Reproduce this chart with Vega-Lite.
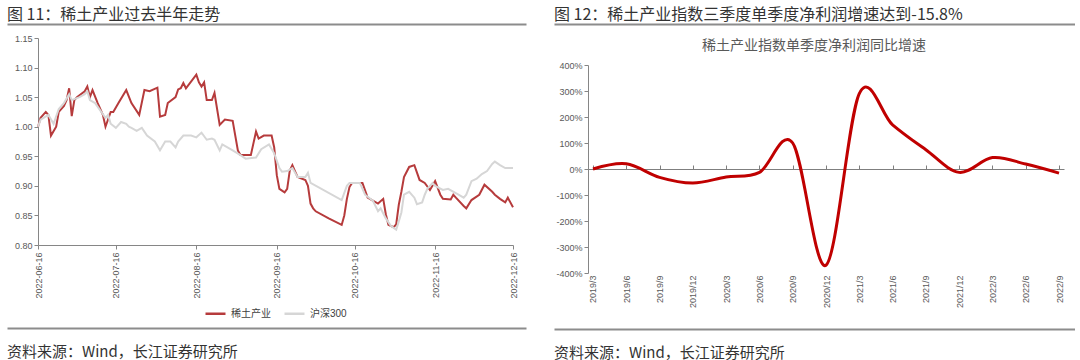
{
  "$schema": "https://vega.github.io/schema/vega-lite/v6.json",
  "padding": {"left": 7, "top": 7, "right": 0, "bottom": 0},
  "background": "white",
  "config": {
    "view": {"stroke": null},
    "font": "Liberation Sans, Noto Sans CJK SC",
    "axis": {"labelFontSize": 9, "labelColor": "#595959", "domainColor": "#868686", "tickColor": "#868686", "tickSize": 4, "grid": false, "labelOverlap": false, "labelFont": "Liberation Sans, Noto Sans CJK SC"},
    "legend": {"layout": {"bottom": {"anchor": "middle"}}}
  },
  "resolve": {"scale": {"color": "independent"}, "legend": {"color": "independent"}},
  "hconcat": [
    {
      "spacing": 9,
      "resolve": {"scale": {"color": "independent"}, "legend": {"color": "independent"}},
      "vconcat": [
        {
          "width": 519, "height": 1,
          "title": {"text": "图 11：稀土产业过去半年走势", "anchor": "start", "fontSize": 16, "font": "Noto Sans CJK SC", "fontWeight": "normal", "color": "#333333", "offset": 1},
          "data": {"values": [{}]},
          "mark": {"type": "point", "size": 0, "opacity": 0},
          "encoding": {"x": {"datum": 0, "type": "quantitative", "scale": {"domain": [0, 1]}, "axis": {"orient": "top", "domain": true, "domainColor": "#8c8c8c", "domainWidth": 2, "ticks": false, "labels": false, "title": null}}}
        },
        {
          "spacing": 0,
          "resolve": {"scale": {"color": "independent"}, "legend": {"color": "independent"}},
          "hconcat": [
            {"width": 1, "height": 1, "data": {"values": [{}]}, "mark": {"type": "point", "size": 0, "opacity": 0}},
            {
              "width": 475, "height": 207,
              "data": {"values": [
                {"date": "2022-06-16", "s": "稀土产业", "v": 1.000},
                {"date": "2022-06-17", "s": "稀土产业", "v": 1.015},
                {"date": "2022-06-19", "s": "稀土产业", "v": 1.025},
                {"date": "2022-06-20", "s": "稀土产业", "v": 1.020},
                {"date": "2022-06-21", "s": "稀土产业", "v": 0.985},
                {"date": "2022-06-23", "s": "稀土产业", "v": 1.000},
                {"date": "2022-06-24", "s": "稀土产业", "v": 1.025},
                {"date": "2022-06-26", "s": "稀土产业", "v": 1.035},
                {"date": "2022-06-27", "s": "稀土产业", "v": 1.045},
                {"date": "2022-06-28", "s": "稀土产业", "v": 1.065},
                {"date": "2022-06-29", "s": "稀土产业", "v": 1.018},
                {"date": "2022-06-30", "s": "稀土产业", "v": 1.045},
                {"date": "2022-07-01", "s": "稀土产业", "v": 1.050},
                {"date": "2022-07-04", "s": "稀土产业", "v": 1.060},
                {"date": "2022-07-05", "s": "稀土产业", "v": 1.068},
                {"date": "2022-07-06", "s": "稀土产业", "v": 1.050},
                {"date": "2022-07-07", "s": "稀土产业", "v": 1.062},
                {"date": "2022-07-09", "s": "稀土产业", "v": 1.040},
                {"date": "2022-07-11", "s": "稀土产业", "v": 1.020},
                {"date": "2022-07-12", "s": "稀土产业", "v": 1.000},
                {"date": "2022-07-14", "s": "稀土产业", "v": 1.025},
                {"date": "2022-07-15", "s": "稀土产业", "v": 1.025},
                {"date": "2022-07-17", "s": "稀土产业", "v": 1.040},
                {"date": "2022-07-20", "s": "稀土产业", "v": 1.062},
                {"date": "2022-07-22", "s": "稀土产业", "v": 1.040},
                {"date": "2022-07-25", "s": "稀土产业", "v": 1.020},
                {"date": "2022-07-27", "s": "稀土产业", "v": 1.062},
                {"date": "2022-07-29", "s": "稀土产业", "v": 1.060},
                {"date": "2022-08-01", "s": "稀土产业", "v": 1.066},
                {"date": "2022-08-02", "s": "稀土产业", "v": 1.017},
                {"date": "2022-08-04", "s": "稀土产业", "v": 1.020},
                {"date": "2022-08-05", "s": "稀土产业", "v": 1.040},
                {"date": "2022-08-08", "s": "稀土产业", "v": 1.050},
                {"date": "2022-08-09", "s": "稀土产业", "v": 1.063},
                {"date": "2022-08-10", "s": "稀土产业", "v": 1.065},
                {"date": "2022-08-11", "s": "稀土产业", "v": 1.074},
                {"date": "2022-08-12", "s": "稀土产业", "v": 1.065},
                {"date": "2022-08-16", "s": "稀土产业", "v": 1.088},
                {"date": "2022-08-17", "s": "稀土产业", "v": 1.075},
                {"date": "2022-08-18", "s": "稀土产业", "v": 1.068},
                {"date": "2022-08-19", "s": "稀土产业", "v": 1.075},
                {"date": "2022-08-20", "s": "稀土产业", "v": 1.045},
                {"date": "2022-08-22", "s": "稀土产业", "v": 1.045},
                {"date": "2022-08-23", "s": "稀土产业", "v": 1.057},
                {"date": "2022-08-25", "s": "稀土产业", "v": 1.003},
                {"date": "2022-08-27", "s": "稀土产业", "v": 1.012},
                {"date": "2022-08-30", "s": "稀土产业", "v": 1.010},
                {"date": "2022-09-01", "s": "稀土产业", "v": 0.960},
                {"date": "2022-09-02", "s": "稀土产业", "v": 0.952},
                {"date": "2022-09-06", "s": "稀土产业", "v": 0.952},
                {"date": "2022-09-08", "s": "稀土产业", "v": 0.992},
                {"date": "2022-09-09", "s": "稀土产业", "v": 0.980},
                {"date": "2022-09-11", "s": "稀土产业", "v": 0.985},
                {"date": "2022-09-14", "s": "稀土产业", "v": 0.985},
                {"date": "2022-09-15", "s": "稀土产业", "v": 0.965},
                {"date": "2022-09-16", "s": "稀土产业", "v": 0.918},
                {"date": "2022-09-17", "s": "稀土产业", "v": 0.895},
                {"date": "2022-09-19", "s": "稀土产业", "v": 0.889},
                {"date": "2022-09-20", "s": "稀土产业", "v": 0.895},
                {"date": "2022-09-21", "s": "稀土产业", "v": 0.926},
                {"date": "2022-09-22", "s": "稀土产业", "v": 0.935},
                {"date": "2022-09-23", "s": "稀土产业", "v": 0.925},
                {"date": "2022-09-24", "s": "稀土产业", "v": 0.915},
                {"date": "2022-09-27", "s": "稀土产业", "v": 0.910},
                {"date": "2022-09-28", "s": "稀土产业", "v": 0.900},
                {"date": "2022-09-29", "s": "稀土产业", "v": 0.870},
                {"date": "2022-09-30", "s": "稀土产业", "v": 0.862},
                {"date": "2022-10-01", "s": "稀土产业", "v": 0.857},
                {"date": "2022-10-06", "s": "稀土产业", "v": 0.845},
                {"date": "2022-10-11", "s": "稀土产业", "v": 0.834},
                {"date": "2022-10-12", "s": "稀土产业", "v": 0.850},
                {"date": "2022-10-13", "s": "稀土产业", "v": 0.878},
                {"date": "2022-10-14", "s": "稀土产业", "v": 0.898},
                {"date": "2022-10-15", "s": "稀土产业", "v": 0.905},
                {"date": "2022-10-19", "s": "稀土产业", "v": 0.905},
                {"date": "2022-10-21", "s": "稀土产业", "v": 0.880},
                {"date": "2022-10-23", "s": "稀土产业", "v": 0.875},
                {"date": "2022-10-25", "s": "稀土产业", "v": 0.870},
                {"date": "2022-10-27", "s": "稀土产业", "v": 0.878},
                {"date": "2022-10-28", "s": "稀土产业", "v": 0.852},
                {"date": "2022-10-29", "s": "稀土产业", "v": 0.834},
                {"date": "2022-10-31", "s": "稀土产业", "v": 0.830},
                {"date": "2022-11-01", "s": "稀土产业", "v": 0.835},
                {"date": "2022-11-02", "s": "稀土产业", "v": 0.868},
                {"date": "2022-11-03", "s": "稀土产业", "v": 0.890},
                {"date": "2022-11-04", "s": "稀土产业", "v": 0.915},
                {"date": "2022-11-06", "s": "稀土产业", "v": 0.932},
                {"date": "2022-11-08", "s": "稀土产业", "v": 0.935},
                {"date": "2022-11-10", "s": "稀土产业", "v": 0.910},
                {"date": "2022-11-12", "s": "稀土产业", "v": 0.905},
                {"date": "2022-11-14", "s": "稀土产业", "v": 0.893},
                {"date": "2022-11-16", "s": "稀土产业", "v": 0.908},
                {"date": "2022-11-18", "s": "稀土产业", "v": 0.885},
                {"date": "2022-11-19", "s": "稀土产业", "v": 0.878},
                {"date": "2022-11-22", "s": "稀土产业", "v": 0.877},
                {"date": "2022-11-23", "s": "稀土产业", "v": 0.885},
                {"date": "2022-11-24", "s": "稀土产业", "v": 0.880},
                {"date": "2022-11-27", "s": "稀土产业", "v": 0.866},
                {"date": "2022-11-28", "s": "稀土产业", "v": 0.862},
                {"date": "2022-11-30", "s": "稀土产业", "v": 0.876},
                {"date": "2022-12-03", "s": "稀土产业", "v": 0.885},
                {"date": "2022-12-05", "s": "稀土产业", "v": 0.902},
                {"date": "2022-12-08", "s": "稀土产业", "v": 0.890},
                {"date": "2022-12-09", "s": "稀土产业", "v": 0.885},
                {"date": "2022-12-11", "s": "稀土产业", "v": 0.878},
                {"date": "2022-12-13", "s": "稀土产业", "v": 0.872},
                {"date": "2022-12-14", "s": "稀土产业", "v": 0.880},
                {"date": "2022-12-16", "s": "稀土产业", "v": 0.864},
                {"date": "2022-06-16", "s": "沪深300", "v": 1.000},
                {"date": "2022-06-17", "s": "沪深300", "v": 1.012},
                {"date": "2022-06-20", "s": "沪深300", "v": 1.020},
                {"date": "2022-06-22", "s": "沪深300", "v": 1.005},
                {"date": "2022-06-24", "s": "沪深300", "v": 1.030},
                {"date": "2022-06-26", "s": "沪深300", "v": 1.040},
                {"date": "2022-06-28", "s": "沪深300", "v": 1.055},
                {"date": "2022-06-29", "s": "沪深300", "v": 1.045},
                {"date": "2022-07-02", "s": "沪深300", "v": 1.050},
                {"date": "2022-07-04", "s": "沪深300", "v": 1.055},
                {"date": "2022-07-05", "s": "沪深300", "v": 1.060},
                {"date": "2022-07-06", "s": "沪深300", "v": 1.045},
                {"date": "2022-07-08", "s": "沪深300", "v": 1.040},
                {"date": "2022-07-12", "s": "沪深300", "v": 1.015},
                {"date": "2022-07-13", "s": "沪深300", "v": 1.020},
                {"date": "2022-07-14", "s": "沪深300", "v": 1.005},
                {"date": "2022-07-16", "s": "沪深300", "v": 0.998},
                {"date": "2022-07-18", "s": "沪深300", "v": 1.008},
                {"date": "2022-07-20", "s": "沪深300", "v": 1.005},
                {"date": "2022-07-21", "s": "沪深300", "v": 1.000},
                {"date": "2022-07-22", "s": "沪深300", "v": 0.998},
                {"date": "2022-07-24", "s": "沪深300", "v": 0.993},
                {"date": "2022-07-26", "s": "沪深300", "v": 0.998},
                {"date": "2022-07-28", "s": "沪深300", "v": 0.985},
                {"date": "2022-07-31", "s": "沪深300", "v": 0.975},
                {"date": "2022-08-02", "s": "沪深300", "v": 0.960},
                {"date": "2022-08-04", "s": "沪深300", "v": 0.975},
                {"date": "2022-08-06", "s": "沪深300", "v": 0.975},
                {"date": "2022-08-08", "s": "沪深300", "v": 0.965},
                {"date": "2022-08-09", "s": "沪深300", "v": 0.975},
                {"date": "2022-08-11", "s": "沪深300", "v": 0.985},
                {"date": "2022-08-14", "s": "沪深300", "v": 0.985},
                {"date": "2022-08-16", "s": "沪深300", "v": 0.982},
                {"date": "2022-08-18", "s": "沪深300", "v": 0.990},
                {"date": "2022-08-20", "s": "沪深300", "v": 0.978},
                {"date": "2022-08-22", "s": "沪深300", "v": 0.980},
                {"date": "2022-08-23", "s": "沪深300", "v": 0.978},
                {"date": "2022-08-25", "s": "沪深300", "v": 0.960},
                {"date": "2022-08-26", "s": "沪深300", "v": 0.970},
                {"date": "2022-08-30", "s": "沪深300", "v": 0.960},
                {"date": "2022-09-02", "s": "沪深300", "v": 0.952},
                {"date": "2022-09-04", "s": "沪深300", "v": 0.946},
                {"date": "2022-09-08", "s": "沪深300", "v": 0.948},
                {"date": "2022-09-10", "s": "沪深300", "v": 0.962},
                {"date": "2022-09-13", "s": "沪深300", "v": 0.970},
                {"date": "2022-09-15", "s": "沪深300", "v": 0.955},
                {"date": "2022-09-17", "s": "沪深300", "v": 0.930},
                {"date": "2022-09-18", "s": "沪深300", "v": 0.924},
                {"date": "2022-09-20", "s": "沪深300", "v": 0.925},
                {"date": "2022-09-22", "s": "沪深300", "v": 0.930},
                {"date": "2022-09-24", "s": "沪深300", "v": 0.915},
                {"date": "2022-09-27", "s": "沪深300", "v": 0.915},
                {"date": "2022-09-28", "s": "沪深300", "v": 0.922},
                {"date": "2022-09-29", "s": "沪深300", "v": 0.905},
                {"date": "2022-10-11", "s": "沪深300", "v": 0.876},
                {"date": "2022-10-13", "s": "沪深300", "v": 0.900},
                {"date": "2022-10-14", "s": "沪深300", "v": 0.905},
                {"date": "2022-10-18", "s": "沪深300", "v": 0.905},
                {"date": "2022-10-20", "s": "沪深300", "v": 0.885},
                {"date": "2022-10-23", "s": "沪深300", "v": 0.875},
                {"date": "2022-10-25", "s": "沪深300", "v": 0.857},
                {"date": "2022-10-26", "s": "沪深300", "v": 0.862},
                {"date": "2022-10-28", "s": "沪深300", "v": 0.845},
                {"date": "2022-10-30", "s": "沪深300", "v": 0.832},
                {"date": "2022-11-01", "s": "沪深300", "v": 0.826},
                {"date": "2022-11-02", "s": "沪深300", "v": 0.840},
                {"date": "2022-11-03", "s": "沪深300", "v": 0.855},
                {"date": "2022-11-04", "s": "沪深300", "v": 0.885},
                {"date": "2022-11-06", "s": "沪深300", "v": 0.890},
                {"date": "2022-11-08", "s": "沪深300", "v": 0.880},
                {"date": "2022-11-09", "s": "沪深300", "v": 0.869},
                {"date": "2022-11-11", "s": "沪深300", "v": 0.872},
                {"date": "2022-11-12", "s": "沪深300", "v": 0.885},
                {"date": "2022-11-13", "s": "沪深300", "v": 0.895},
                {"date": "2022-11-15", "s": "沪深300", "v": 0.905},
                {"date": "2022-11-16", "s": "沪深300", "v": 0.900},
                {"date": "2022-11-19", "s": "沪深300", "v": 0.893},
                {"date": "2022-11-21", "s": "沪深300", "v": 0.895},
                {"date": "2022-11-25", "s": "沪深300", "v": 0.885},
                {"date": "2022-11-27", "s": "沪深300", "v": 0.880},
                {"date": "2022-11-28", "s": "沪深300", "v": 0.885},
                {"date": "2022-11-30", "s": "沪深300", "v": 0.908},
                {"date": "2022-12-02", "s": "沪深300", "v": 0.912},
                {"date": "2022-12-04", "s": "沪深300", "v": 0.920},
                {"date": "2022-12-06", "s": "沪深300", "v": 0.925},
                {"date": "2022-12-08", "s": "沪深300", "v": 0.937},
                {"date": "2022-12-09", "s": "沪深300", "v": 0.941},
                {"date": "2022-12-11", "s": "沪深300", "v": 0.935},
                {"date": "2022-12-13", "s": "沪深300", "v": 0.930},
                {"date": "2022-12-16", "s": "沪深300", "v": 0.930}
              ]},
              "mark": {"type": "line", "strokeWidth": 2},
              "encoding": {
                "x": {"field": "date", "type": "temporal",
                  "scale": {"type": "utc", "domain": [{"year": 2022, "month": 6, "date": 16, "utc": true}, {"year": 2022, "month": 12, "date": 16, "utc": true}]},
                  "axis": {"values": [
                    {"year": 2022, "month": 6, "date": 16, "utc": true},
                    {"year": 2022, "month": 7, "date": 16, "utc": true},
                    {"year": 2022, "month": 8, "date": 16, "utc": true},
                    {"year": 2022, "month": 9, "date": 16, "utc": true},
                    {"year": 2022, "month": 10, "date": 16, "utc": true},
                    {"year": 2022, "month": 11, "date": 16, "utc": true},
                    {"year": 2022, "month": 12, "date": 16, "utc": true}
                  ], "labelExpr": "utcFormat(datum.value, '%Y-%m-%d')", "labelAngle": -90, "labelPadding": 3, "title": null}},
                "y": {"field": "v", "type": "quantitative",
                  "scale": {"domain": [0.8, 1.15], "zero": false, "nice": false},
                  "axis": {"values": [0.8, 0.85, 0.9, 0.95, 1.0, 1.05, 1.1, 1.15], "format": ".2f", "labelPadding": 2, "minExtent": 30, "title": null}},
                "color": {"field": "s", "type": "nominal",
                  "scale": {"domain": ["稀土产业", "沪深300"], "range": ["#b63b3c", "#d6d6d6"]},
                  "legend": {"orient": "bottom", "direction": "horizontal", "title": null, "symbolType": "stroke", "symbolStrokeWidth": 2.5, "symbolSize": 400, "labelFontSize": 10, "labelColor": "#404040", "offset": 3, "columnPadding": 8}}
              }
            }
          ]
        },
        {
          "width": 519, "height": 1,
          "title": {"text": "资料来源：Wind，长江证券研究所", "orient": "bottom", "anchor": "start", "fontSize": 15, "font": "Noto Sans CJK SC", "fontWeight": "normal", "color": "#333333", "offset": 16},
          "data": {"values": [{}]},
          "mark": {"type": "point", "size": 0, "opacity": 0},
          "encoding": {"x": {"datum": 0, "type": "quantitative", "scale": {"domain": [0, 1]}, "axis": {"orient": "top", "domain": true, "domainColor": "#8c8c8c", "domainWidth": 2, "ticks": false, "labels": false, "title": null}}}
        }
      ]
    },
    {
      "spacing": 14,
      "vconcat": [
        {
          "width": 521, "height": 1,
          "title": {"text": "图 12：稀土产业指数三季度单季度净利润增速达到-15.8%", "anchor": "start", "fontSize": 16, "font": "Noto Sans CJK SC", "fontWeight": "normal", "color": "#333333", "offset": 1},
          "data": {"values": [{}]},
          "mark": {"type": "point", "size": 0, "opacity": 0},
          "encoding": {"x": {"datum": 0, "type": "quantitative", "scale": {"domain": [0, 1]}, "axis": {"orient": "top", "domain": true, "domainColor": "#8c8c8c", "domainWidth": 2, "ticks": false, "labels": false, "title": null}}}
        },
        {
          "spacing": 0,
          "hconcat": [
            {"width": 1, "height": 1, "data": {"values": [{}]}, "mark": {"type": "point", "size": 0, "opacity": 0}},
            {
              "width": 476, "height": 208,
              "title": {"text": "稀土产业指数单季度净利润同比增速", "fontSize": 14, "font": "Noto Sans CJK SC", "fontWeight": "normal", "color": "#595959", "offset": 8, "anchor": "middle", "dx": -12},
              "data": {"values": [
                {"q": "2019/3", "v": 0},
                {"q": "2019/6", "v": 20},
                {"q": "2019/9", "v": -32},
                {"q": "2019/12", "v": -54},
                {"q": "2020/3", "v": -31},
                {"q": "2020/6", "v": -13},
                {"q": "2020/9", "v": 100},
                {"q": "2020/12", "v": -370},
                {"q": "2021/3", "v": 290},
                {"q": "2021/6", "v": 170},
                {"q": "2021/9", "v": 74},
                {"q": "2021/12", "v": -13},
                {"q": "2022/3", "v": 44},
                {"q": "2022/6", "v": 19},
                {"q": "2022/9", "v": -15.8}
              ]},
              "mark": {"type": "line", "interpolate": "cardinal", "color": "#c00000", "strokeWidth": 3},
              "encoding": {
                "x": {"field": "q", "type": "ordinal", "sort": null, "scale": {"type": "point", "padding": 0.15},
                  "axis": {"orient": "bottom", "offset": -104, "labelAngle": -90, "domain": true, "ticks": true, "tickSize": -4, "domainColor": "#7f7f7f", "tickColor": "#7f7f7f", "labelPadding": 110, "minExtent": 146, "labelOverlap": false, "title": null}},
                "y": {"field": "v", "type": "quantitative", "scale": {"domain": [-400, 400], "nice": false},
                  "axis": {"values": [-400, -300, -200, -100, 0, 100, 200, 300, 400], "labelExpr": "datum.value + '%'", "labelPadding": 2, "minExtent": 32, "labelOverlap": false, "title": null}}
              }
            }
          ]
        },
        {
          "width": 521, "height": 1,
          "title": {"text": "资料来源：Wind，长江证券研究所", "orient": "bottom", "anchor": "start", "fontSize": 15, "font": "Noto Sans CJK SC", "fontWeight": "normal", "color": "#333333", "offset": 16},
          "data": {"values": [{}]},
          "mark": {"type": "point", "size": 0, "opacity": 0},
          "encoding": {"x": {"datum": 0, "type": "quantitative", "scale": {"domain": [0, 1]}, "axis": {"orient": "top", "domain": true, "domainColor": "#8c8c8c", "domainWidth": 2, "ticks": false, "labels": false, "title": null}}}
        }
      ]
    }
  ],
  "spacing": 28
}
